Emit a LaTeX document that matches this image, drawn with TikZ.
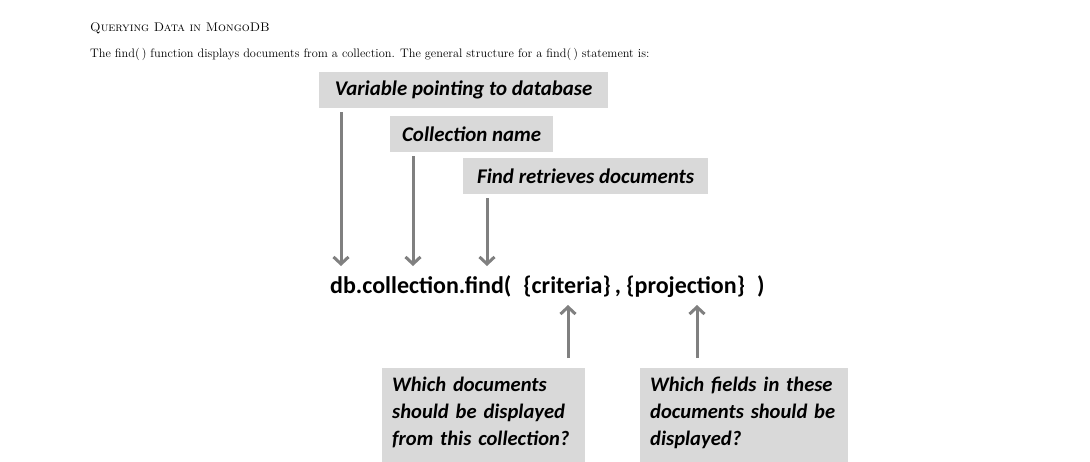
\documentclass[tikz,border=0pt]{standalone}
\usepackage{fontspec}
\newfontfamily\calib{Carlito}
\usetikzlibrary{arrows.meta,positioning}
\definecolor{boxgray}{RGB}{217,217,217}
\definecolor{arrgray}{RGB}{128,128,128}
\tikzset{
  labelbox/.style={fill=boxgray, anchor=north west, inner xsep=10pt, inner ysep=0pt,
    minimum height=36pt, font=\calib\bfseries\itshape\fontsize{20.9}{27}\selectfont},
  notebox/.style={labelbox, inner ysep=9pt, align=left, font=\calib\bfseries\itshape\fontsize{20.6}{27}\selectfont},
  pointer/.style={draw=arrgray, line width=3pt, -{Straight Barb[length=7pt,width=15pt,line width=3pt]}}
}
\newcommand{\pointdown}[2]{\draw[pointer] ([yshift=-4pt]#1.south -| #2) -- (#2)}
\newcommand{\pointup}[2]{\draw[pointer] ([yshift=10pt]#1.north -| #2) -- (#2)}

\begin{document}
\begin{tikzpicture}[x=1pt,y=-1pt]
    \useasboundingbox (0,0) rectangle (1090,461);
    \node[anchor=base west, inner sep=0pt, font=\fontsize{12.5}{15}\selectfont\scshape] (title) at (90,31) {Querying Data in MongoDB};
    \node[anchor=base west, inner sep=0pt, font=\fontsize{12.3}{14}\selectfont] (intro) at (90,57) {The find(\,) function displays documents from a collection. The general structure for a find(\,) statement is:};
    \node[labelbox, minimum width=289pt] (var) at (319,72) {Variable pointing to database};
    \node[labelbox, minimum width=163pt] (coll) at (390,116) {Collection name};
    \node[labelbox, minimum width=245pt] (find) at (463,158) {Find retrieves documents};
    \node[anchor=west, inner sep=0pt, font=\calib\bfseries\fontsize{24}{28}\selectfont] (stmt) at (330,287)
      {db.collection.find(\hspace{0.5em}\{criteria\}\,,\ \{projection\}\hspace{0.5em})};
    \node[notebox, text width=183pt] (crit) at (382,368)
      {Which documents\\should be displayed\\from this collection?\strut};
    \node[notebox, text width=188pt] (proj) at (640,368)
      {Which fields in these\\documents should be\\displayed?\strut};
    \coordinate (db) at (341,266);
    \coordinate (cn) at (413,266);
    \coordinate (fn) at (487,266);
    \coordinate (cr) at (568,305);
    \coordinate (pr) at (697,305);
    \pointdown{var}{db};
    \pointdown{coll}{cn};
    \pointdown{find}{fn};
    \pointup{crit}{cr};
    \pointup{proj}{pr};
\end{tikzpicture}
\end{document}
